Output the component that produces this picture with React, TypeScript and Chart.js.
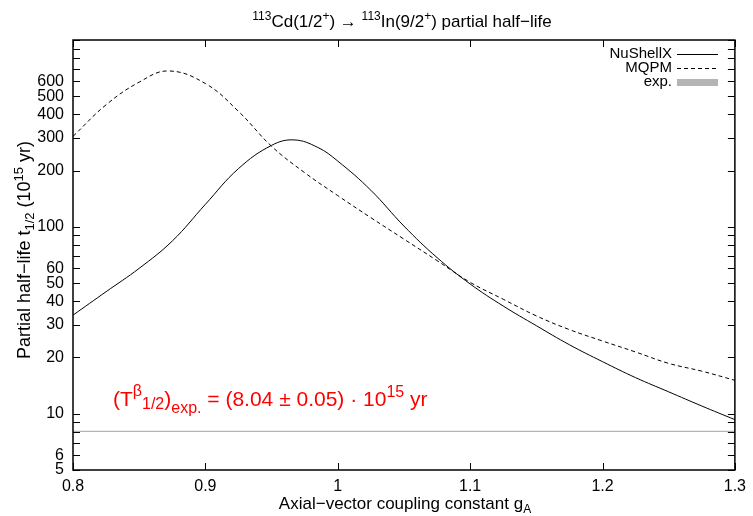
import { useEffect, useRef } from "react";
import { Chart, registerables } from "chart.js";

Chart.register(...registerables);

// ---- data ----
const nsX = [0.8, 0.825, 0.85, 0.875, 0.9, 0.925, 0.95, 0.967, 0.985, 1.0, 1.025, 1.05, 1.075, 1.1, 1.125, 1.15, 1.175, 1.2, 1.225, 1.25, 1.275, 1.3];
const nsY = [33.7, 45, 60, 84, 132, 205, 273, 292, 266, 225, 157, 101, 68.5, 49.5, 37.7, 29.6, 23.4, 19.0, 15.6, 13.1, 11.0, 9.3];
const mqX = [0.8, 0.825, 0.85, 0.872, 0.9, 0.925, 0.95, 0.975, 1.0, 1.025, 1.05, 1.075, 1.1, 1.125, 1.15, 1.175, 1.2, 1.225, 1.25, 1.275, 1.3];
const mqY = [305, 450, 595, 683, 585, 415, 270, 195, 147, 112, 86, 66, 50.5, 41.0, 33.4, 28.2, 24.5, 21.4, 18.6, 16.9, 15.1];
const expX = [0.8, 1.3];
const expValue = 8.04;

const xTickValues = [0.8, 0.9, 1.0, 1.1, 1.2, 1.3];
const xTickLabels = ["0.8", "0.9", "1", "1.1", "1.2", "1.3"];
const yTickValues = [5, 6, 7, 8, 9, 10, 20, 30, 40, 50, 60, 70, 80, 90, 100, 200, 300, 400, 500, 600, 700, 800, 900, 1000];
const yTickLabels = ["5", "6", "", "", "", "10", "20", "30", "40", "50", "60", "", "", "", "100", "200", "300", "400", "500", "600", "", "", "", ""];

const seriesNames = ["NuShellX", "MQPM", "exp."];

const FONT = "'Liberation Sans', Arial, Helvetica, sans-serif";

type Seg = { t: string; size: number; dy: number };

function richWidth(ctx: CanvasRenderingContext2D, segs: Seg[]) {
  let w = 0;
  for (const s of segs) {
    ctx.font = `${s.size}px ${FONT}`;
    w += ctx.measureText(s.t).width;
  }
  return w;
}

function drawRich(ctx: CanvasRenderingContext2D, segs: Seg[], x: number, y: number, align: "left" | "center", color: string) {
  const w = richWidth(ctx, segs);
  let cx = align === "center" ? x - w / 2 : x;
  ctx.fillStyle = color;
  ctx.textAlign = "left";
  ctx.textBaseline = "alphabetic";
  for (const s of segs) {
    ctx.font = `${s.size}px ${FONT}`;
    ctx.fillText(s.t, cx, y + s.dy);
    cx += ctx.measureText(s.t).width;
  }
}

const decorPlugin = {
  id: "decor",
  afterDraw(chart: any) {
    const ctx: CanvasRenderingContext2D = chart.ctx;
    const { left, right, top, bottom } = chart.chartArea;
    const xs = chart.scales.x;
    const ys = chart.scales.y;
    ctx.save();
    // frame
    ctx.strokeStyle = "#000";
    ctx.lineWidth = 1.5;
    ctx.strokeRect(left, top, right - left, bottom - top);
    // ticks
    ctx.lineWidth = 1;
    ctx.beginPath();
    const tl = 7;
    for (const v of xTickValues) {
      const px = Math.round(xs.getPixelForValue(v)) + 0.5;
      ctx.moveTo(px, bottom);
      ctx.lineTo(px, bottom - tl);
      ctx.moveTo(px, top);
      ctx.lineTo(px, top + tl);
    }
    yTickValues.forEach((v) => {
      const py = Math.round(ys.getPixelForValue(v)) + 0.5;
      ctx.moveTo(left, py);
      ctx.lineTo(left + tl, py);
      ctx.moveTo(right, py);
      ctx.lineTo(right - tl, py);
    });
    ctx.stroke();

    // legend
    const ds = chart.data.datasets;
    const legY = [54, 68, 82];
    ctx.font = `15px ${FONT}`;
    ctx.textAlign = "right";
    ctx.textBaseline = "middle";
    ctx.fillStyle = "#000";
    seriesNames.forEach((name, i) => {
      ctx.fillText(name, 672, legY[i]);
      ctx.beginPath();
      ctx.strokeStyle = ds[i].borderColor;
      if (i === 2) {
        ctx.lineWidth = 7;
        ctx.setLineDash([]);
      } else {
        ctx.lineWidth = 1;
        ctx.setLineDash(ds[i].borderDash || []);
      }
      ctx.moveTo(677, legY[i] + 0.5);
      ctx.lineTo(718, legY[i] + 0.5);
      ctx.stroke();
    });
    ctx.setLineDash([]);

    // title
    drawRich(
      ctx,
      [
        { t: "113", size: 12, dy: -7 },
        { t: "Cd(1/2", size: 17, dy: 0 },
        { t: "+", size: 12, dy: -7 },
        { t: ") \u2192 ", size: 17, dy: 0 },
        { t: "113", size: 12, dy: -7 },
        { t: "In(9/2", size: 17, dy: 0 },
        { t: "+", size: 12, dy: -7 },
        { t: ") partial half\u2212life", size: 17, dy: 0 },
      ],
      402,
      27,
      "center",
      "#000"
    );

    // x title
    drawRich(
      ctx,
      [
        { t: "Axial\u2212vector coupling constant g", size: 17, dy: 0 },
        { t: "A", size: 12, dy: 4 },
      ],
      405,
      509,
      "center",
      "#000"
    );

    // y title
    ctx.save();
    ctx.translate(30, 250);
    ctx.rotate(-Math.PI / 2);
    drawRich(
      ctx,
      [
        { t: "Partial half\u2212life t", size: 18, dy: 0 },
        { t: "1/2", size: 13, dy: 4 },
        { t: " (10", size: 18, dy: 0 },
        { t: "15", size: 13, dy: -7 },
        { t: " yr)", size: 18, dy: 0 },
      ],
      0,
      0,
      "center",
      "#000"
    );
    ctx.restore();

    // red annotation
    drawRich(
      ctx,
      [
        { t: "(T", size: 21, dy: 0 },
        { t: "\u03b2", size: 16, dy: -10 },
        { t: "1/2", size: 16, dy: 3 },
        { t: ")", size: 21, dy: 0 },
        { t: "exp.", size: 16, dy: 7 },
        { t: " = (8.04 \u00b1 0.05) \u00b7 10", size: 21, dy: 0 },
        { t: "15", size: 16, dy: -9 },
        { t: " yr", size: 21, dy: 0 },
      ],
      113,
      406,
      "left",
      "#ff0000"
    );
    ctx.restore();
  },
};

export default function App() {
  const ref = useRef<HTMLCanvasElement>(null);
  useEffect(() => {
    document.body.style.margin = "0";
    const canvas = ref.current!;
    const chart = new Chart(canvas, {
      type: "line",
      data: {
        datasets: [
          {
            label: seriesNames[0],
            data: nsX.map((x, i) => ({ x, y: nsY[i] })),
            borderColor: "#000000",
            borderWidth: 1,
            pointRadius: 0,
            tension: 0.4,
            fill: false,
          },
          {
            label: seriesNames[1],
            data: mqX.map((x, i) => ({ x, y: mqY[i] })),
            borderColor: "#000000",
            borderWidth: 1,
            borderDash: [4, 3],
            pointRadius: 0,
            tension: 0.4,
            fill: false,
          },
          {
            label: seriesNames[2],
            data: expX.map((x) => ({ x, y: expValue })),
            borderColor: "#b4b4b4",
            borderWidth: 1.2,
            pointRadius: 0,
            fill: false,
          },
        ],
      } as any,
      options: {
        responsive: false,
        animation: false,
        layout: { padding: { left: 0, top: 40, right: 14, bottom: 0 } },
        plugins: { legend: { display: false }, tooltip: { enabled: false }, title: { display: false } },
        scales: {
          x: {
            type: "linear",
            min: 0.8,
            max: 1.3,
            afterBuildTicks: (s: any) => {
              s.ticks = xTickValues.map((v) => ({ value: v }));
            },
            ticks: {
              autoSkip: false,
              maxRotation: 0,
              padding: 7,
              color: "#000",
              font: { family: FONT, size: 16 },
              callback: (_v: any, i: number) => xTickLabels[i],
            },
            grid: { display: false, drawTicks: false },
            border: { display: false },
            afterFit: (s: any) => {
              s.height = 46;
            },
          },
          y: {
            type: "logarithmic",
            min: 5,
            max: 1000,
            afterBuildTicks: (s: any) => {
              s.ticks = yTickValues.map((v) => ({ value: v }));
            },
            ticks: {
              autoSkip: false,
              padding: 9,
              color: "#000",
              font: { family: FONT, size: 16 },
              callback: (_v: any, i: number) => yTickLabels[i],
            },
            grid: { display: false, drawTicks: false },
            border: { display: false },
            afterFit: (s: any) => {
              s.width = 73;
            },
          },
        },
      } as any,
      plugins: [decorPlugin],
    });
    return () => chart.destroy();
  }, []);
  return (
    <div style={{ position: "fixed", left: 0, top: 0, width: 753, height: 516, background: "#fff" }}>
      <canvas ref={ref} width={753} height={516} style={{ display: "block" }} />
    </div>
  );
}
